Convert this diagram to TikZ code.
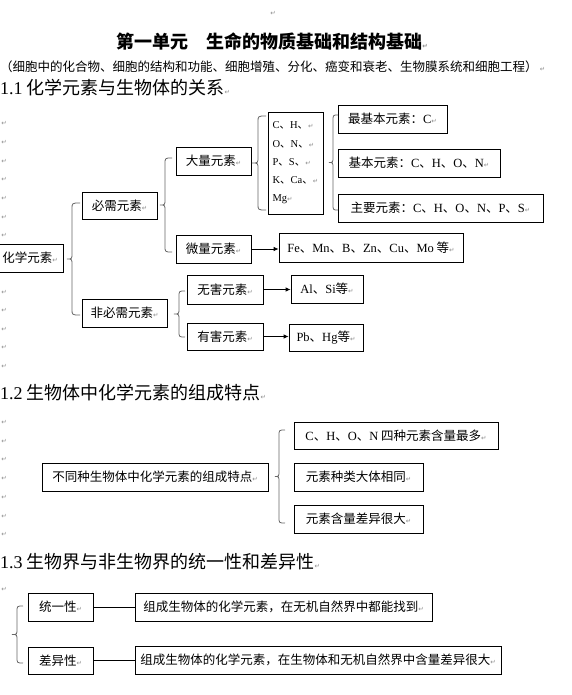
\documentclass[tikz,border=0pt]{standalone}
\usepackage{fontspec}
\setmainfont{Liberation Serif}
\newfontfamily\cjk{Noto Sans CJK SC}
\newfontfamily\symf{DejaVu Sans}
\usetikzlibrary{arrows.meta}
\newcommand\retm{{\symf\fontsize{6.5}{6.5}\selectfont\textcolor{black!45}{↵}}}
\newcommand\lt[1]{{\rmfamily #1}}
% brace: #1 tip x, #2 stem x, #3 end x, #4 top y, #5 bottom y
\newcommand\wbrace[5]{%
  \draw[brc] (#3,#4) .. controls (#2,#4) .. (#2,{#4+6}) -- (#2,{(#4+#5)/2-6})
    .. controls (#2,{(#4+#5)/2}) .. (#1,{(#4+#5)/2})
    .. controls (#2,{(#4+#5)/2}) .. (#2,{(#4+#5)/2+6}) -- (#2,{#5-6})
    .. controls (#2,#5) .. (#3,#5);}
\begin{document}
\begin{tikzpicture}[x=1pt,y=-1pt,
  box/.style={draw, line width=0.8pt, inner sep=0pt, anchor=center,
    font=\cjk\fontsize{12.5}{15}\selectfont},
  brc/.style={draw=black!60, line width=0.8pt},
  arr/.style={line width=0.8pt, -{Latex[length=5pt,width=4.5pt]}},
  lnk/.style={line width=0.8pt},
  retnode/.style={inner sep=0pt, anchor=center, font=\symf\fontsize{6.5}{6.5}\selectfont, text=black!45},
  head/.style={inner sep=0pt, anchor=west, font=\cjk\fontsize{18}{20}\selectfont}]
\path[use as bounding box, fill=white] (0,0) rectangle (572,695);

% title block
\node[retnode] (top) at (273,13) {↵};
\node[inner sep=0pt, anchor=center, font=\cjk\bfseries\fontsize{18}{20}\selectfont] (title) at (272,42) {第一单元　生命的物质基础和结构基础\retm};
\node[inner sep=0pt, anchor=west, font=\cjk\fontsize{12.5}{15}\selectfont] (sub) at (0,67) {（细胞中的化合物、细胞的结构和功能、细胞增殖、分化、癌变和衰老、生物膜系统和细胞工程）\,\retm};

% headings
\node[head] (h1) at (0,88) {\lt{1.1} 化学元素与生物体的关系\retm};
\node[head] (h2) at (0,393) {\lt{1.2} 生物体中化学元素的组成特点\retm};
\node[head] (h3) at (0,562) {\lt{1.3} 生物界与非生物界的统一性和差异性\retm};

% paragraph marks at left
\foreach \yy [count=\i] in {123,142,161,179,198,217,235,292,310,329,347,366,422,441,459,478,497,516,534,589}
  \node[retnode] (p\i) at (4,\yy) {↵};

% ---- section 1.1 ----
\node[box, minimum width=66pt, minimum height=28pt] (hx) at (30,258) {化学元素\retm};
\node[box, minimum width=75pt, minimum height=27pt] (bx) at (119.5,205.5) {必需元素\retm};
\node[box, minimum width=85pt, minimum height=28pt] (fbx) at (124.5,313) {非必需元素\retm};
\node[box, minimum width=75pt, minimum height=28pt] (dl) at (213.5,161) {大量元素\retm};
\node[box, minimum width=75pt, minimum height=28pt] (wl) at (213.5,249) {微量元素\retm};
\node[box, minimum width=55pt, minimum height=102pt, align=left,
  font=\cjk\fontsize{10.5}{18.3}\selectfont] (chk) at (295.5,163)
  {\lt{C}、\lt{H}、\retm\\ \lt{O}、\lt{N}、\retm\\ \lt{P}、\lt{S}、\retm\\ \lt{K}、\lt{Ca}、\retm\\ \lt{Mg}\retm};
\node[box, minimum width=109pt, minimum height=28pt] (zjb) at (392.5,119) {最基本元素：\lt{C}\retm};
\node[box, minimum width=162pt, minimum height=28pt] (jb) at (419,163) {基本元素：\lt{C}、\lt{H}、\lt{O}、\lt{N}\retm};
\node[box, minimum width=205pt, minimum height=28pt] (zy) at (440.5,208) {主要元素：\lt{C}、\lt{H}、\lt{O}、\lt{N}、\lt{P}、\lt{S}\retm};
\node[box, minimum width=184pt, minimum height=29pt] (fe) at (371,247.5) {\lt{Fe}、\lt{Mn}、\lt{B}、\lt{Zn}、\lt{Cu}、\lt{Mo} 等\retm};
\node[box, minimum width=76pt, minimum height=29pt] (wh) at (225,289.5) {无害元素\retm};
\node[box, minimum width=76pt, minimum height=27pt] (yh) at (225,336.5) {有害元素\retm};
\node[box, minimum width=72pt, minimum height=28pt] (al) at (327,289) {\lt{Al}、\lt{Si}等\retm};
\node[box, minimum width=74pt, minimum height=27pt] (pb) at (326,337.5) {\lt{Pb}、\lt{Hg}等\retm};

\wbrace{67}{72}{80}{203}{315}
\wbrace{160}{165}{172}{158}{252}
\wbrace{252}{258}{266}{116}{210}
\wbrace{329}{333}{338}{115}{210}
\wbrace{174}{179}{185}{291}{337}

\draw[arr] (wl.east) -- (wl.east -| fe.west);
\draw[arr] (wh.east) -- (wh.east -| al.west);
\draw[arr] (yh.east) -- (yh.east -| pb.west);

% ---- section 1.2 ----
\node[box, minimum width=226pt, minimum height=28pt] (bt) at (155,477) {不同种生物体中化学元素的组成特点\retm};
\node[box, minimum width=204pt, minimum height=27pt] (chon) at (396,435.5) {\lt{C}、\lt{H}、\lt{O}、\lt{N} 四种元素含量最多\retm};
\node[box, minimum width=129pt, minimum height=28pt] (zl) at (358.5,477) {元素种类大体相同\retm};
\node[box, minimum width=129pt, minimum height=28pt] (hl) at (358.5,519) {元素含量差异很大\retm};
\wbrace{275}{279}{285}{430}{523}

% ---- section 1.3 ----
\node[box, minimum width=65pt, minimum height=28pt] (ty) at (60.5,607) {统一性\retm};
\node[box, minimum width=65pt, minimum height=27pt] (cy) at (60.5,660.5) {差异性\retm};
\node[box, minimum width=297pt, minimum height=28pt] (l1) at (283.5,607) {组成生物体的化学元素，在无机自然界中都能找到\retm};
\node[box, minimum width=366pt, minimum height=28pt] (l2) at (318,660) {组成生物体的化学元素，在生物体和无机自然界中含量差异很大\retm};
\wbrace{12}{17}{23}{606}{663}
\draw[lnk] (ty.east) -- (ty.east -| l1.west);
\draw[lnk] (cy.east) -- (cy.east -| l2.west);
\end{tikzpicture}
\end{document}
